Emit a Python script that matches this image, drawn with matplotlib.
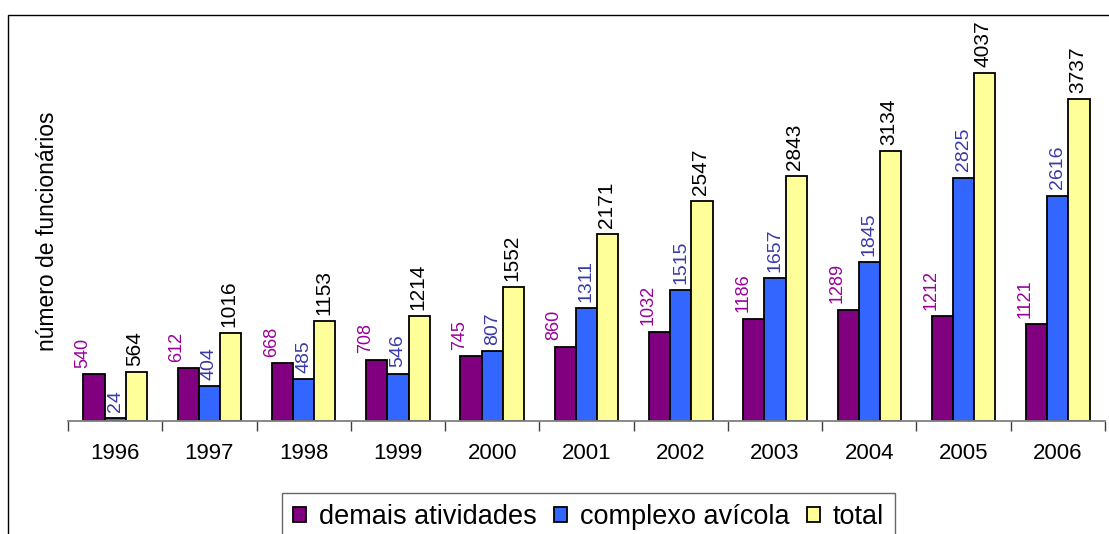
import matplotlib
matplotlib.use("Agg")
import matplotlib.pyplot as plt
import numpy as np
from matplotlib.patches import Rectangle

plt.rcParams["font.family"] = ["Liberation Sans", "DejaVu Sans"]

years = ["1996", "1997", "1998", "1999", "2000", "2001", "2002", "2003", "2004", "2005", "2006"]
demais = [540, 612, 668, 708, 745, 860, 1032, 1186, 1289, 1212, 1121]
avicola = [24, 404, 485, 546, 807, 1311, 1515, 1657, 1845, 2825, 2616]
total = [564, 1016, 1153, 1214, 1552, 2171, 2547, 2843, 3134, 4037, 3737]

# name, values, bar colour, label colour, label size, label x shift (pt)
series = [
    ("demais atividades", demais, "#800080", "#990099", 13, -8.0),
    ("complexo avícola", avicola, "#3366FF", "#3A3AA8", 14, 0),
    ("total", total, "#FFFF99", "#000000", 15, -1.0),
]

W, H = 1109, 534
fig = plt.figure(figsize=(W / 100, H / 100), dpi=100)
ax = fig.add_axes([68 / W, 113.5 / H, 1037 / W, 387 / H])

x = np.arange(len(years))
w = 0.225
for i, (name, vals, color, lcolor, fs, dx) in enumerate(series):
    pos = x + (i - 1) * w
    ax.bar(pos, vals, width=w, color=color, edgecolor="black", linewidth=1.3, label=name, zorder=3)
    for p, v in zip(pos, vals):
        ax.annotate(str(v), (p, v), xytext=(dx, 4.5), textcoords="offset points",
                    rotation=90, ha="center", va="bottom", color=lcolor, fontsize=fs)

ax.set_xlim(-0.5, len(years) - 0.5)
ax.set_ylim(0, 4500)
ax.set_yticks([])
for s in ["top", "right", "left"]:
    ax.spines[s].set_visible(False)
ax.spines["bottom"].set_color("#808080")
ax.spines["bottom"].set_linewidth(1.3)
ax.spines["bottom"].set_zorder(4)

ax.set_xticks(np.arange(len(years) + 1) - 0.5)
ax.set_xticklabels([])
ax.tick_params(axis="x", which="major", length=7, color="#404040", width=1)
ax.set_xticks(x, minor=True)
ax.set_xticklabels(years, minor=True, fontsize=16)
ax.tick_params(axis="x", which="minor", length=0, pad=16)

fig.text(47 / W, 1 - 231 / H, "número de funcionários", rotation=90,
         ha="center", va="center", fontsize=16.5)

leg = fig.legend(loc="upper left", bbox_to_anchor=(282 / W, 1 - 493 / H), ncol=3,
                 fontsize=19.5, frameon=True, fancybox=False, edgecolor="#404040",
                 handlelength=0.5, handleheight=0.5, handletextpad=0.45, columnspacing=0.65,
                 borderpad=0.4, borderaxespad=0)
leg.get_frame().set_linewidth(1.0)

fig.patches.append(Rectangle((8 / W, -0.05), 1.2, 1 - 15 / H + 0.05,
                             transform=fig.transFigure, fill=False,
                             edgecolor="black", linewidth=1.0))

fig.savefig("out.png", dpi=100)
